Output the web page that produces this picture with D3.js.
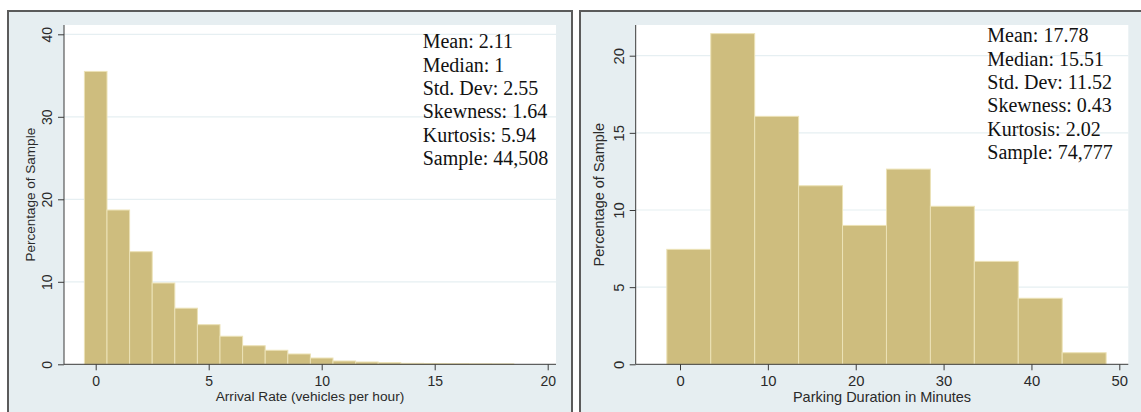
<!DOCTYPE html>
<html>
<head>
<meta charset="utf-8">
<script src="https://cdn.jsdelivr.net/npm/d3@7"></script>
<style>
  html, body { margin: 0; padding: 0; background: #ffffff; }
  svg { display: block; }
</style>
</head>
<body>
<svg id="chart" width="1141" height="412"></svg>
<script>
// Arrival rate histogram: bins of width 1 centred on whole numbers
const arrivalBinLeft = [-0.5, 0.5, 1.5, 2.5, 3.5, 4.5, 5.5, 6.5, 7.5, 8.5, 9.5, 10.5, 11.5, 12.5, 13.5, 14.5, 15.5, 16.5, 17.5];
const arrivalPct     = [35.5, 18.7, 13.65, 9.85, 6.8, 4.8, 3.4, 2.25, 1.7, 1.25, 0.76, 0.4, 0.28, 0.2, 0.12, 0.1, 0.08, 0.06, 0.05];
const arrivalWidth = 1;
const arrivalXTicks = [0, 5, 10, 15, 20];
const arrivalYTicks = [0, 10, 20, 30, 40];
const arrivalStats = ["Mean: 2.11", "Median: 1", "Std. Dev: 2.55", "Skewness: 1.64", "Kurtosis: 5.94", "Sample: 44,508"];

// Parking duration histogram: bins of width 5 minutes
const durationBinLeft = [-1.5, 3.5, 8.5, 13.5, 18.5, 23.5, 28.5, 33.5, 38.5, 43.5];
const durationPct     = [7.45, 21.43, 16.07, 11.57, 9.0, 12.65, 10.24, 6.67, 4.28, 0.75];
const durationWidth = 5;
const durationXTicks = [0, 10, 20, 30, 40, 50];
const durationYTicks = [0, 5, 10, 15, 20];
const durationStats = ["Mean: 17.78", "Median: 15.51", "Std. Dev: 11.52", "Skewness: 0.43", "Kurtosis: 2.02", "Sample: 74,777"];

const svg = d3.select("#chart");
const PANEL_BG = "#e6eef1";
const BAR_FILL = "#cebd7e";
const BAR_EDGE = "#ece2b6";
const GRID = "#e6eff2";
const SANS = "'Liberation Sans', Arial, sans-serif";
const SERIF = "'Liberation Serif', 'Times New Roman', serif";

function drawPanel(cfg) {
  const g = svg.append("g");

  // outer graph region
  g.append("rect")
    .attr("x", cfg.frame.x).attr("y", cfg.frame.y)
    .attr("width", cfg.frame.w).attr("height", cfg.frame.h)
    .attr("fill", PANEL_BG)
    .attr("stroke", "#5b5b5b").attr("stroke-width", 2);

  // plot region
  const pr = cfg.plot;
  g.append("rect")
    .attr("x", pr.x0).attr("y", pr.y0)
    .attr("width", pr.x1 - pr.x0).attr("height", pr.y1 - pr.y0)
    .attr("fill", "#ffffff");

  const x = d3.scaleLinear().domain(cfg.xDomain).range(cfg.xRange);
  const y = d3.scaleLinear().domain(cfg.yDomain).range(cfg.yRange);

  // horizontal grid lines
  g.append("g").selectAll("line")
    .data(cfg.yTicks.filter(t => t > 0))
    .join("line")
    .attr("x1", pr.x0).attr("x2", pr.x1)
    .attr("y1", d => y(d)).attr("y2", d => y(d))
    .attr("stroke", GRID).attr("stroke-width", 1.2);

  // bars
  g.append("g").selectAll("rect")
    .data(cfg.left.map((l, i) => ({ l, v: cfg.values[i] })))
    .join("rect")
    .attr("x", d => x(d.l))
    .attr("width", d => x(d.l + cfg.width) - x(d.l))
    .attr("y", d => y(d.v))
    .attr("height", d => y(0) - y(d.v))
    .attr("fill", BAR_FILL)
    .attr("stroke", BAR_EDGE).attr("stroke-width", 1);

  // x axis
  const xa = g.append("g")
    .attr("transform", `translate(0,${y(0)})`)
    .call(d3.axisBottom(x).tickValues(cfg.xTicks).tickSize(6).tickSizeOuter(0).tickPadding(4));
  xa.select(".domain").attr("d", `M${pr.x0},0H${pr.x1}`).attr("stroke", "#3a3a3a");
  xa.selectAll(".tick line").attr("stroke", "#3a3a3a");
  xa.selectAll(".tick text")
    .attr("y", cfg.xTickBase).attr("dy", 0)
    .attr("fill", "#2a2a2a")
    .style("font-family", SANS).style("font-size", cfg.tickFont + "px");

  // y axis with rotated tick labels
  const ya = g.append("g")
    .attr("transform", `translate(${pr.x0},0)`)
    .call(d3.axisLeft(y).tickValues(cfg.yTicks).tickSize(6).tickSizeOuter(0));
  ya.select(".domain").attr("d", `M0,${pr.y1}V${pr.y0}`).attr("stroke", "#3a3a3a");
  ya.selectAll(".tick line").attr("stroke", "#3a3a3a");
  ya.selectAll(".tick text")
    .attr("x", 0).attr("y", cfg.yTickBase).attr("dy", 0)
    .attr("text-anchor", "middle")
    .attr("transform", "rotate(-90)")
    .attr("fill", "#2a2a2a")
    .style("font-family", SANS).style("font-size", cfg.tickFont + "px");

  // axis titles
  g.append("text")
    .attr("x", (pr.x0 + pr.x1) / 2).attr("y", cfg.xTitleBase)
    .attr("text-anchor", "middle")
    .attr("fill", "#2a2a2a")
    .style("font-family", SANS).style("font-size", cfg.titleFont + "px")
    .text(cfg.xTitle);
  g.append("text")
    .attr("transform", `translate(${cfg.yTitleBase},${(pr.y0 + pr.y1) / 2}) rotate(-90)`)
    .attr("text-anchor", "middle")
    .attr("fill", "#2a2a2a")
    .style("font-family", SANS).style("font-size", cfg.yTitleFont + "px")
    .text(cfg.yTitle);

  // summary statistics
  g.append("g").selectAll("text")
    .data(cfg.stats)
    .join("text")
    .attr("x", cfg.statX)
    .attr("y", (d, i) => cfg.statY + i * 23.3)
    .attr("fill", "#111")
    .style("font-family", SERIF).style("font-size", "20px")
    .text(d => d);
}

drawPanel({
  frame: { x: 8, y: 11, w: 564, h: 420 },
  plot: { x0: 64, x1: 556, y0: 25, y1: 364.3 },
  xDomain: [0, 20], xRange: [95.7, 547.7],
  yDomain: [0, 40], yRange: [364.3, 34.3],
  left: arrivalBinLeft, values: arrivalPct, width: arrivalWidth,
  xTicks: arrivalXTicks, yTicks: arrivalYTicks,
  xTickBase: 21.5, yTickBase: -12.3, tickFont: 14,
  xTitle: "Arrival Rate (vehicles per hour)", xTitleBase: 400.5, titleFont: 13.7,
  yTitle: "Percentage of Sample", yTitleBase: 34.5, yTitleFont: 13.5,
  stats: arrivalStats, statX: 422.7, statY: 48.3
});

drawPanel({
  frame: { x: 580, y: 11, w: 600, h: 420 },
  plot: { x0: 635.7, x1: 1128.3, y0: 25, y1: 364.3 },
  xDomain: [0, 50], xRange: [680, 1119.3],
  yDomain: [0, 20], yRange: [364.3, 55.7],
  left: durationBinLeft, values: durationPct, width: durationWidth,
  xTicks: durationXTicks, yTicks: durationYTicks,
  xTickBase: 22, yTickBase: -11.7, tickFont: 14.8,
  xTitle: "Parking Duration in Minutes", xTitleBase: 401.5, titleFont: 14.5,
  yTitle: "Percentage of Sample", yTitleBase: 604.3, yTitleFont: 14.5,
  stats: durationStats, statX: 987.3, statY: 42.3
});
</script>
</body>
</html>
